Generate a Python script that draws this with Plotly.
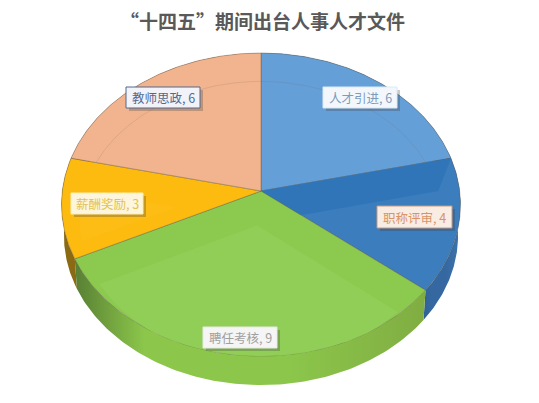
import numpy as np
import plotly.graph_objects as go

categories = ["人才引进", "职称评审", "聘任考核", "薪酬奖励", "教师思政"]
values = [6, 4, 9, 3, 6]

top_colors = ["#659fd7", "#3c7dbd", "#8cc94f", "#fdbb10", "#f1b48e"]
inner_colors = ["#659fd7", "#3c7dbd", "#91ce57", "#fdbd15", "#f1b48e"]
band_color = "#2f75b8"
side_left = ["#3a6ea6", "#2f5f94", "#587f33", "#6f5310", "#a5714f"]
side_mid = ["#3a6ea6", "#3568a0", "#8cc74b", "#8a6a12", "#a5714f"]
side_right = ["#3a6ea6", "#3f74ad", "#80ad42", "#8a6a12", "#a5714f"]

# label boxes: left, right, top, bottom in page pixels, plus text, border and shadow colour
label_boxes = [
    (323, 397, 87, 108, "#7d9cbb", "#dbe8f4", "#f3f7fb"),
    (377, 452, 206, 228, "#d89468", "#c99a7c", "#f8ece3"),
    (203, 277, 327, 348, "#a0a0a0", "#e8e8e8", "#f5f5f5"),
    (71, 143, 193, 214, "#e3c25a", "#fbeeb5", "#fdf6dc"),
    (126, 200, 87, 108, "#52688f", "#52688f", "#f2f3f9"),
]
ring_slices = [0, 4]
band_slices = [1]

CX, CY = 261.0, 191.0
W, H, K = 198.7, 150.3, 0.0892
DEPTH = 31.0
FONT = "Noto Sans CJK SC"
BODY = 8  # the page keeps a default body margin
INSET = 0.14
APEX_V = -0.06


def project(u, v, scale=1.0, drop=0.0):
    # disc coordinates to page pixels, far side of the disc is squeezed
    d = 1 + K * v
    return CX + scale * W * u / d, CY + drop - scale * H * v / d


def inner_outline(a0, a1, inset=INSET, ring_r=0.9, ring_v=-0.12, apex_v=APEX_V):
    half = (a1 - a0) / 2
    mid = a0 + half
    dist = inset / np.sin(half)
    ax, ay = dist * np.sin(mid), dist * np.cos(mid) + apex_v
    thetas = np.linspace(a0, a1, 80)
    dx, dy = np.sin(thetas), np.cos(thetas)
    # where each ray from the apex meets the shifted ring
    fx, fy = ax, ay - ring_v
    b = fx * dx + fy * dy
    c = fx * fx + fy * fy - ring_r * ring_r
    t = -b + np.sqrt(np.maximum(b * b - c, 0))
    u = np.concatenate([[ax], ax + t * dx, [ax]])
    v = np.concatenate([[ay], ay + t * dy, [ay]])
    # keep the facet inside the rim
    r = np.maximum(np.hypot(u, v), 1.0)
    return u / r, v / r


fig = go.Figure()

edges = np.concatenate([[0], np.cumsum(values)]) / np.sum(values) * 2 * np.pi

# side wall first, the green slice goes last because it sits in front
order = [4, 3, 0, 1, 2]
for i in order:
    a = np.linspace(edges[i], edges[i + 1], 120)
    u, v = np.sin(a), np.cos(a)
    x1, y1 = project(u, v)
    x2, y2 = project(u, v, scale=0.988, drop=DEPTH)
    fig.add_trace(go.Scatter(
        x=np.concatenate([x1, x2[::-1], x1[:1]]),
        y=np.concatenate([y1, y2[::-1], y1[:1]]),
        mode="lines", line=dict(width=0), fill="toself",
        fillgradient=dict(type="horizontal", colorscale=[
            [0, side_left[i]], [0.2, side_mid[i]], [0.6, side_mid[i]], [1, side_right[i]]]),
        hoverinfo="skip", showlegend=False))

# top face of each slice
for i in range(len(values)):
    a0, a1 = edges[i], edges[i + 1]
    a = np.linspace(a0, a1, 120)
    u = np.concatenate([[0], np.sin(a), [0]])
    v = np.concatenate([[0], np.cos(a), [0]])
    x, y = project(u, v)
    fig.add_trace(go.Scatter(
        x=x, y=y, mode="lines", fill="toself", fillcolor=top_colors[i],
        line=dict(color="rgba(90,80,60,0.55)", width=0.7),
        name=categories[i], hoverinfo="skip", showlegend=False))

    if i in ring_slices:
        # these two only show the faint bevel ring, no inner facet
        iu, iv = inner_outline(a0, a1, inset=0.001, apex_v=0)
        rx, ry = project(iu[1:-1], iv[1:-1])
        fig.add_trace(go.Scatter(
            x=rx, y=ry, mode="lines", line=dict(color="rgba(110,100,90,0.16)", width=1),
            hoverinfo="skip", showlegend=False))
    elif i in band_slices:
        # dark band along the upper edge only
        iu, iv = inner_outline(a0, a1)
        back = INSET / np.sin(a1 - a0)
        bu = np.array([0, np.sin(a0), iu[1], back * np.sin(a1), 0])
        bv = np.array([0, np.cos(a0), iv[1], back * np.cos(a1) + APEX_V, 0])
        bx, by = project(bu, bv)
        fig.add_trace(go.Scatter(
            x=bx, y=by, mode="lines", fill="toself", fillcolor=band_color,
            line=dict(width=0), hoverinfo="skip", showlegend=False))
    else:
        iu, iv = inner_outline(a0, a1)
        ix, iy = project(iu, iv)
        fig.add_trace(go.Scatter(
            x=ix, y=iy, mode="lines", fill="toself", fillcolor=inner_colors[i],
            line=dict(width=0),
            hoverinfo="skip", showlegend=False))

# labels
for name, val, box in zip(categories, values, label_boxes):
    x0, x1, y0, y1, text_col, border, bg = box
    fig.add_shape(type="rect", x0=x0 + 3, x1=x1 + 3, y0=y0 + 3, y1=y1 + 3,
                  fillcolor="rgba(60,60,60,0.28)", line=dict(width=0))
    fig.add_shape(type="rect", x0=x0, x1=x1, y0=y0, y1=y1,
                  fillcolor=bg, line=dict(color=border, width=1))
    fig.add_annotation(x=(x0 + x1) / 2, y=(y0 + y1) / 2, text=f"{name}, {val}", showarrow=False,
                       font=dict(family=FONT, size=12.5, color=text_col))

fig.add_annotation(x=262, y=20, text="<b>“十四五”期间出台人事人才文件</b>", showarrow=False,
                   font=dict(family=FONT, size=19, color="#595959"))

fig.update_layout(
    width=539 - 2 * BODY, height=403 - 2 * BODY,
    margin=dict(l=0, r=0, t=0, b=0),
    paper_bgcolor="white", plot_bgcolor="white",
    xaxis=dict(range=[BODY, 539 - BODY], visible=False, fixedrange=True),
    yaxis=dict(range=[403 - BODY, BODY], visible=False, fixedrange=True),
    showlegend=False,
)

fig.write_html("out.html")
